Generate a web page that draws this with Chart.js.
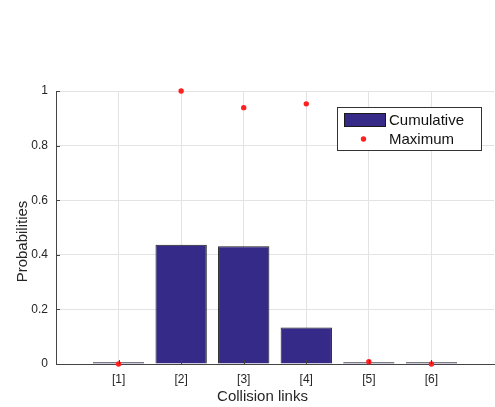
<!DOCTYPE html>
<html>
<head>
<meta charset="utf-8">
<script src="https://cdn.jsdelivr.net/npm/chart.js@4"></script>
<style>
  html, body { margin: 0; padding: 0; background: #fff; overflow: hidden; }
  body { width: 495px; height: 407px; }
  canvas { display: block; }
</style>
</head>
<body>
<canvas id="chart" width="498" height="407"></canvas>
<script>
// values
const categories = ['[1]', '[2]', '[3]', '[4]', '[5]', '[6]'];
const cumulative = [0.006, 0.437, 0.431, 0.134, 0.006, 0.006];
const maximum = [0, 1.0, 0.939, 0.953, 0.008, 0];
const yTicks = [0, 0.2, 0.4, 0.6, 0.8, 1];
const yLabels = ['0', '0.2', '0.4', '0.6', '0.8', '1'];

const barColor = '#352a87';
const edgeColor = '#1a1a1a';
const textColor = '#262626';
const font = 'Liberation Sans, Arial, sans-serif';

const extras = {
  id: 'extras',
  afterDraw(chart) {
    const ctx = chart.ctx;
    const area = chart.chartArea;
    const xs = chart.scales.x, ys = chart.scales.y;
    ctx.save();

    // inward tick marks, like matlab
    ctx.strokeStyle = '#444';
    ctx.lineWidth = 1;
    ctx.beginPath();
    yTicks.forEach(v => {
      const y = Math.round(ys.getPixelForValue(v)) + 0.5;
      ctx.moveTo(area.left, y);
      ctx.lineTo(area.left + 4, y);
    });
    categories.forEach((c, i) => {
      const x = Math.round(xs.getPixelForValue(i + 1)) + 0.5;
      ctx.moveTo(x, area.bottom);
      ctx.lineTo(x, area.bottom - 4);
    });
    ctx.stroke();

    // axis titles
    ctx.fillStyle = textColor;
    ctx.font = '15px ' + font;
    ctx.textAlign = 'center';
    ctx.textBaseline = 'alphabetic';
    ctx.fillText('Collision links', 262.5, 400.5);
    ctx.translate(26.5, 241.5);
    ctx.rotate(-Math.PI / 2);
    ctx.fillText('Probabilities', 0, 0);
    ctx.setTransform(1, 0, 0, 1, 0, 0);

    // legend box
    ctx.fillStyle = '#fff';
    ctx.fillRect(337, 107, 144, 43);
    ctx.strokeStyle = '#333';
    ctx.strokeRect(337.5, 107.5, 144, 43);
    ctx.fillStyle = barColor;
    ctx.fillRect(344, 113, 42, 14);
    ctx.strokeStyle = edgeColor;
    ctx.strokeRect(344.5, 113.5, 41, 13);
    ctx.fillStyle = '#ff2020';
    ctx.beginPath();
    ctx.arc(363.5, 139, 2.7, 0, Math.PI * 2);
    ctx.fill();
    ctx.fillStyle = '#111';
    ctx.font = '15px ' + font;
    ctx.textAlign = 'left';
    ctx.textBaseline = 'middle';
    ctx.fillText('Cumulative', 389, 120.5);
    ctx.fillText('Maximum', 389, 139.5);
    ctx.restore();
  }
};

new Chart(document.getElementById('chart'), {
  type: 'bar',
  data: {
    datasets: [
      {
        type: 'line',
        label: 'Maximum',
        data: maximum.map((v, i) => ({ x: i + 1, y: v })),
        showLine: false,
        pointRadius: 2.7,
        pointBackgroundColor: '#ff2020',
        pointBorderWidth: 0,
        clip: false,
        order: 0
      },
      {
        label: 'Cumulative',
        data: cumulative.map((v, i) => ({ x: i + 1, y: v })),
        backgroundColor: barColor,
        borderColor: edgeColor,
        borderWidth: 1,
        barPercentage: 0.82,
        categoryPercentage: 1,
        order: 1
      }
    ]
  },
  options: {
    responsive: false,
    animation: false,
    devicePixelRatio: 1,
    layout: { padding: { top: 91, right: 1, left: 0, bottom: 0 } },
    plugins: { legend: { display: false }, tooltip: { enabled: false } },
    scales: {
      x: {
        type: 'linear',
        min: 0,
        max: 7,
        offset: false,
        afterBuildTicks: s => { s.ticks = categories.map((c, i) => ({ value: i + 1 })); },
        afterFit: s => { s.height = 43; },
        ticks: {
          padding: 8,
          color: textColor,
          font: { family: font, size: 12 },
          maxRotation: 0,
          callback: v => categories[v - 1] || ''
        },
        grid: { color: '#e3e3e3', drawTicks: false, offset: false },
        border: { color: '#444', width: 1 }
      },
      y: {
        min: 0,
        max: 1,
        afterBuildTicks: s => { s.ticks = yTicks.map(v => ({ value: v })); },
        afterFit: s => { s.width = 56; },
        ticks: {
          padding: 8,
          color: textColor,
          font: { family: font, size: 12 },
          callback: v => yLabels[yTicks.indexOf(v)]
        },
        grid: { color: '#e3e3e3', drawTicks: false },
        border: { color: '#444', width: 1 }
      }
    }
  },
  plugins: [extras]
});
</script>
</body>
</html>
